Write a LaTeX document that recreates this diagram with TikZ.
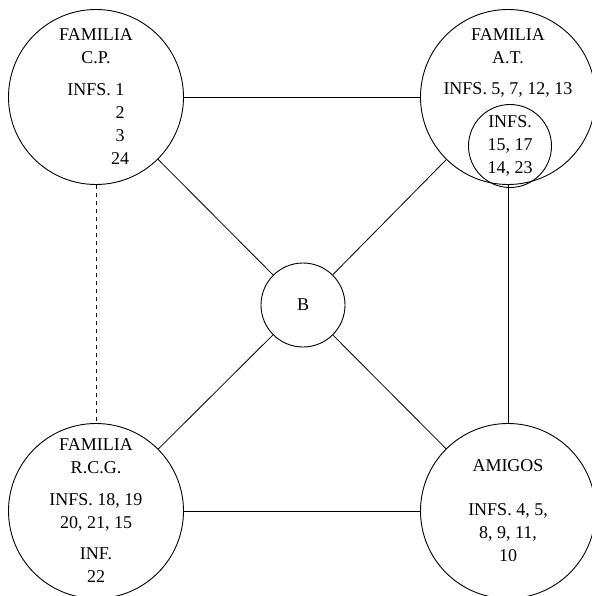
\documentclass[tikz,border=0pt]{standalone}
\usepackage{fontspec}
\setmainfont{Liberation Serif}
\newcommand{\infcol}[1]{\hphantom{INFS. }\makebox[0.5em]{#1}}
\begin{document}
\begin{tikzpicture}[x=1pt,y=-1pt,line width=0.9pt,
  every node/.style={font=\fontsize{18}{23}\selectfont,align=center,inner sep=0pt},
  group/.style={draw,circle,minimum size=175pt},
  small/.style={draw,circle,minimum size=83pt},
  link/.style={line width=0.8pt}]
  \useasboundingbox (0,0) rectangle (591,596);
  \node[group] (cp) at (96,97) {FAMILIA\\C.P.\\[9pt]INFS. \makebox[0.5em]{1}\\
    \infcol{2}\\ \infcol{3}\\ \infcol{24}};
  \node[group] (at) at (508,97) {};
  \node (at-text) at (508,63) {FAMILIA\\A.T.\\[8pt]INFS. 5, 7, 12, 13};
  \node[small] (at-inner) at (510,146) {INFS.\\15, 17\\14, 23};
  \node[group] (rcg) at (96,511) {FAMILIA\\R.C.G.\\[9pt]INFS. 18, 19\\20, 21, 15\\[8pt]INF.\\22};
  \node[group] (amigos) at (508,511) {AMIGOS\\[21pt]INFS. 4, 5,\\8, 9, 11,\\10};
  \node[circle,draw,minimum size=84pt] (b) at (303,305) {B};
  \draw[link] (cp) -- (at);
  \draw[link] (rcg) -- (amigos);
  \draw[link] (at) -- (amigos);
  \draw[link,dash pattern=on 4pt off 4pt] (cp) -- (rcg);
  \draw[link] (cp) -- (b);
  \draw[link] (at) -- (b);
  \draw[link] (rcg) -- (b);
  \draw[link] (amigos) -- (b);
\end{tikzpicture}
\end{document}
